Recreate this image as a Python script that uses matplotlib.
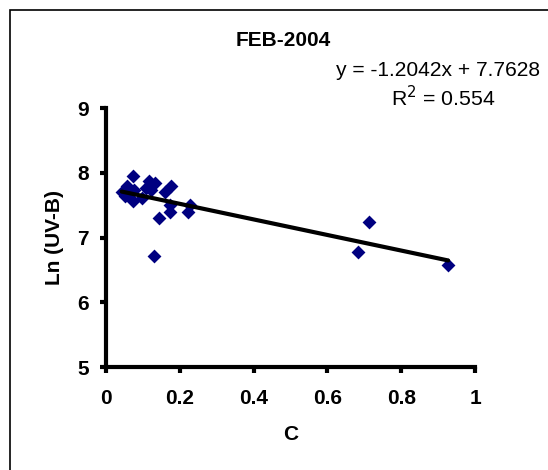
import numpy as np
import matplotlib.pyplot as plt
from matplotlib.patches import Rectangle

plt.rcParams['font.family'] = ['Liberation Sans', 'DejaVu Sans']

# scatter data
c_vals = [0.074, 0.130, 0.145, 0.173, 0.177, 0.161, 0.175, 0.222, 0.227,
          0.118, 0.132, 0.109, 0.099, 0.074, 0.043, 0.057, 0.066, 0.052,
          0.076, 0.123, 0.683, 0.714, 0.927]
ln_uvb = [7.95, 6.71, 7.31, 7.39, 7.80, 7.71, 7.51, 7.39, 7.51,
          7.88, 7.84, 7.77, 7.61, 7.57, 7.71, 7.80, 7.70, 7.64,
          7.74, 7.74, 6.77, 7.24, 6.58]

# trend line from the chart label
slope = -1.2042
intercept = 7.7628
r2 = 0.554

fig = plt.figure(figsize=(5.48, 4.7), dpi=100)
ax = fig.add_axes([0.193, 0.219, 0.674, 0.551])

ax.scatter(c_vals, ln_uvb, marker='D', s=50, color='#000080', zorder=3, linewidths=0)
xl = np.array([min(c_vals), max(c_vals)])
ax.plot(xl, slope * xl + intercept, color='black', lw=3, zorder=4, solid_capstyle='round')

ax.set_xlim(0, 1)
ax.set_ylim(5, 9)
ax.set_xticks([0, 0.2, 0.4, 0.6, 0.8, 1])
ax.set_xticklabels(['0', '0.2', '0.4', '0.6', '0.8', '1'])
ax.set_yticks([5, 6, 7, 8, 9])
for s in ['top', 'right']:
    ax.spines[s].set_visible(False)
for s in ['left', 'bottom']:
    ax.spines[s].set_linewidth(3)
ax.tick_params(direction='out', length=4, width=3, labelsize=15)
ax.tick_params(axis='x', pad=12)
ax.tick_params(axis='y', pad=8)
for lab in ax.get_xticklabels() + ax.get_yticklabels():
    lab.set_fontweight('bold')

ax.set_xlabel('C', fontsize=15, fontweight='bold', labelpad=12)
ax.set_ylabel('Ln (UV-B)', fontsize=15, fontweight='bold', labelpad=10)

fig.text(283 / 548, 1 - 40 / 470, 'FEB-2004', ha='center', va='center',
         fontsize=15, fontweight='bold')
fig.text(336 / 548, 1 - 70 / 470, 'y = -1.2042x + 7.7628', ha='left', va='center',
         fontsize=15.1)
fig.text(443 / 548, 1 - 98 / 470, 'R$^2$ = 0.554', ha='center', va='center',
         fontsize=15.3)

fig.patches.append(Rectangle((10 / 548, -0.1), 1.2, 1 - 10 / 470 + 0.1,
                             transform=fig.transFigure, fill=False,
                             edgecolor='black', lw=1.2))

fig.savefig('out.png', dpi=100)
